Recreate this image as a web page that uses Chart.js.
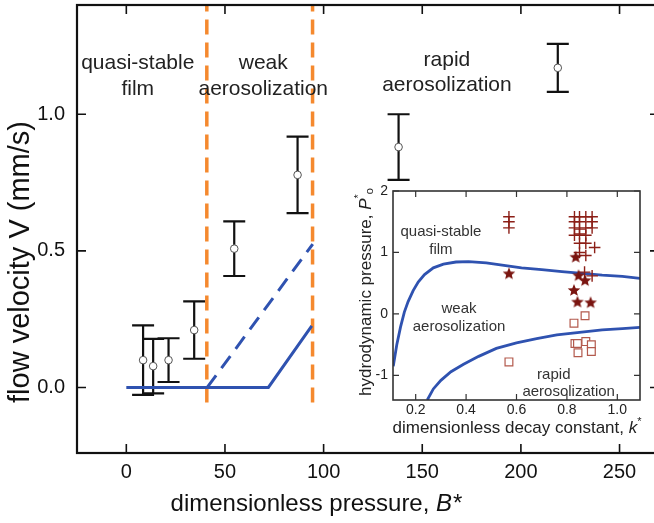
<!DOCTYPE html>
<html>
<head>
<meta charset="utf-8">
<script src="https://cdn.jsdelivr.net/npm/chart.js@4.4.1/dist/chart.umd.min.js"></script>
<style>
  html, body { margin: 0; padding: 0; background: #fff; overflow: hidden; }
  #wrap { position: relative; width: 654px; height: 523px; overflow: hidden; }
  #main { position: absolute; left: 0; top: 0; }
  #inset { position: absolute; left: 340px; top: 175px; }
</style>
</head>
<body>
<div id="wrap">
  <canvas id="main" width="664" height="523"></canvas>
  <canvas id="inset" width="314" height="265"></canvas>
</div>
<script>
// main panel: measured flow velocity vs dimensionless pressure
const B = [8.5, 13.6, 21.4, 34.4, 54.7, 86.8, 138, 218.7];
const V = [0.10, 0.078, 0.10, 0.21, 0.508, 0.778, 0.88, 1.17];
const Verr = [0.127, 0.10, 0.08, 0.105, 0.10, 0.14, 0.12, 0.088];

// model lines
const solidB = [0, 72, 94];
const solidV = [0, 0, 0.225];
const dashB = [41, 94.5];
const dashV = [0, 0.525];

// regime boundaries (orange dashed)
const boundaryB = [40.8, 94.4];
const boundaryV = [-0.055, 1.40];

// inset: regime map, P*o vs k*
const upperK = [0.111, 0.125, 0.14, 0.155, 0.17, 0.19, 0.21, 0.235, 0.27, 0.31, 0.36, 0.41, 0.48, 0.55, 0.62, 0.70, 0.78, 0.86, 0.94, 1.02, 1.09];
const upperP = [-0.85, -0.50, -0.21, 0.03, 0.20, 0.38, 0.52, 0.64, 0.75, 0.81, 0.845, 0.85, 0.83, 0.79, 0.75, 0.72, 0.69, 0.66, 0.63, 0.61, 0.58];
const lowerK = [0.246, 0.27, 0.30, 0.34, 0.39, 0.45, 0.52, 0.60, 0.68, 0.76, 0.85, 0.94, 1.02, 1.09];
const lowerP = [-1.40, -1.22, -1.08, -0.94, -0.82, -0.69, -0.56, -0.47, -0.40, -0.34, -0.30, -0.26, -0.24, -0.22];

const crossK = [0.57, 0.57, 0.57, 0.83, 0.85, 0.875, 0.90, 0.83, 0.85, 0.90, 0.83, 0.85, 0.875, 0.90, 0.83, 0.85, 0.875, 0.85, 0.875, 0.91, 0.85, 0.875, 0.87, 0.90];
const crossP = [1.58, 1.50, 1.40, 1.58, 1.58, 1.58, 1.58, 1.50, 1.50, 1.50, 1.40, 1.38, 1.40, 1.40, 1.28, 1.30, 1.28, 1.15, 1.15, 1.08, 1.00, 0.95, 0.68, 0.62];
const starK = [0.57, 0.835, 0.846, 0.872, 0.828, 0.842, 0.894];
const starP = [0.66, 0.93, 0.63, 0.55, 0.39, 0.20, 0.19];
const squareK = [0.57, 0.828, 0.872, 0.832, 0.844, 0.842, 0.875, 0.897, 0.897];
const squareP = [-0.78, -0.15, -0.03, -0.48, -0.63, -0.48, -0.45, -0.50, -0.61];

const FONT = "'Liberation Sans', Arial, sans-serif";
const BLUE = '#2f52b0';
const ORANGE = '#f5892e';
const DARKRED = '#8c1f17';

const pts = (xs, ys) => xs.map((v, i) => ({ x: v, y: ys[i] }));
const isMajor = (v, step) => Math.abs(v / step - Math.round(v / step)) < 1e-6;
const noPad = s => { s.paddingTop = 0; s.paddingBottom = 0; s.paddingLeft = 0; s.paddingRight = 0; };

function frameTicks(o) {
  return {
    id: 'frameTicks',
    afterDatasetsDraw(chart) {
      const { ctx, chartArea: a, scales: { x, y } } = chart;
      ctx.save();
      ctx.strokeStyle = o.color;
      ctx.lineWidth = o.tickWidth;
      ctx.beginPath();
      x.ticks.forEach(t => {
        const px = x.getPixelForValue(t.value);
        const len = isMajor(t.value, o.xMajor) ? o.major : o.minor;
        ctx.moveTo(px, a.bottom); ctx.lineTo(px, a.bottom - len);
        ctx.moveTo(px, a.top); ctx.lineTo(px, a.top + len);
      });
      y.ticks.forEach(t => {
        const py = y.getPixelForValue(t.value);
        const len = isMajor(t.value, o.yMajor) ? o.major : o.minor;
        ctx.moveTo(a.left, py); ctx.lineTo(a.left + len, py);
        ctx.moveTo(a.right, py); ctx.lineTo(a.right - len, py);
      });
      ctx.stroke();
      ctx.lineWidth = o.frameWidth;
      ctx.strokeRect(a.left, a.top, a.width, a.height);
      ctx.restore();
    }
  };
}

// draws pieces of text [str, font, dy] one after another, centred on cx
function richText(ctx, parts, cx, cy) {
  let total = 0;
  parts.forEach(p => { ctx.font = p[1]; total += ctx.measureText(p[0]).width; });
  let x = cx - total / 2;
  parts.forEach(p => {
    ctx.font = p[1];
    ctx.fillText(p[0], x, cy + (p[2] || 0));
    x += ctx.measureText(p[0]).width;
  });
}

function regionLabels(items, font, color) {
  return {
    id: 'regionLabels',
    afterDraw(chart) {
      const { ctx, scales: { x, y } } = chart;
      ctx.save();
      ctx.font = font;
      ctx.fillStyle = color;
      ctx.textAlign = 'center';
      ctx.textBaseline = 'middle';
      items.forEach(it => ctx.fillText(it[0], x.getPixelForValue(it[1]), y.getPixelForValue(it[2])));
      ctx.restore();
    }
  };
}

const errorBars = {
  id: 'errorBars',
  beforeDatasetsDraw(chart) {
    const { ctx, scales: { x, y } } = chart;
    ctx.save();
    ctx.strokeStyle = '#111';
    ctx.lineWidth = 2.2;
    ctx.beginPath();
    B.forEach((b, i) => {
      const px = x.getPixelForValue(b);
      const top = y.getPixelForValue(V[i] + Verr[i]);
      const bot = y.getPixelForValue(V[i] - Verr[i]);
      ctx.moveTo(px, top); ctx.lineTo(px, bot);
      ctx.moveTo(px - 11, top); ctx.lineTo(px + 11, top);
      ctx.moveTo(px - 11, bot); ctx.lineTo(px + 11, bot);
    });
    ctx.stroke();
    ctx.restore();
  }
};

const mainTitles = {
  id: 'mainTitles',
  afterDraw(chart) {
    const ctx = chart.ctx;
    ctx.save();
    ctx.fillStyle = '#111';
    ctx.textAlign = 'left';
    ctx.textBaseline = 'middle';
    richText(ctx, [['dimensionless pressure, ', '24px ' + FONT], ['B*', 'italic 24px ' + FONT]], 316, 504);
    ctx.translate(21, 262);
    ctx.rotate(-Math.PI / 2);
    ctx.textAlign = 'center';
    ctx.font = '29px ' + FONT;
    ctx.fillText('flow velocity V (mm/s)', 0, 0);
    ctx.restore();
  }
};

const insetTitles = {
  id: 'insetTitles',
  beforeDraw(chart) {
    const { ctx, chartArea: a } = chart;
    ctx.save();
    ctx.fillStyle = '#fff';
    ctx.fillRect(a.left, a.top, a.width, a.height);
    ctx.restore();
  },
  afterDraw(chart) {
    const ctx = chart.ctx;
    ctx.save();
    ctx.fillStyle = '#222';
    ctx.textAlign = 'left';
    ctx.textBaseline = 'middle';
    richText(ctx, [['dimensionless decay constant, ', '17px ' + FONT], ['k', 'italic 17px ' + FONT], ['*', '11px ' + FONT, -6]], 177, 253);
    ctx.translate(26, 117);
    ctx.rotate(-Math.PI / 2);
    richText(ctx, [['hydrodynamic pressure, ', '17px ' + FONT], ['P', 'italic 17px ' + FONT], ['*', '11px ' + FONT, -7], ['o', '11px ' + FONT, 4]], 0, 0);
    ctx.restore();
  }
};

function starImage(r, color) {
  const s = Math.ceil(r * 2 + 2);
  const c = document.createElement('canvas');
  c.width = c.height = s;
  const g = c.getContext('2d');
  g.fillStyle = color;
  g.beginPath();
  for (let i = 0; i < 10; i++) {
    const rad = i % 2 ? r * 0.44 : r;
    const ang = -Math.PI / 2 + i * Math.PI / 5;
    g.lineTo(s / 2 + rad * Math.cos(ang), s / 2 + 0.5 + rad * Math.sin(ang));
  }
  g.closePath();
  g.fill();
  return c;
}

const lineSet = (data, color, width, dash) => ({
  data, showLine: true, borderColor: color, borderWidth: width, borderDash: dash || [],
  pointRadius: 0, fill: false, tension: 0
});

new Chart(document.getElementById('main'), {
  type: 'scatter',
  data: {
    datasets: [
      { data: pts(B, V), pointRadius: 3.8, pointBackgroundColor: '#fff', pointBorderColor: '#555', pointBorderWidth: 1 },
      lineSet(pts(solidB, solidV), BLUE, 3),
      lineSet(pts(dashB, dashV), BLUE, 3, [15, 9]),
      lineSet(pts([boundaryB[0], boundaryB[0]], boundaryV), ORANGE, 3.5, [15, 8]),
      lineSet(pts([boundaryB[1], boundaryB[1]], boundaryV), ORANGE, 3.5, [15, 8])
    ]
  },
  options: {
    responsive: false,
    animation: false,
    events: [],
    layout: { padding: { left: 0, top: -3, right: 5, bottom: 0 } },
    plugins: { legend: { display: false }, tooltip: { enabled: false } },
    scales: {
      x: {
        type: 'linear', min: -25, max: 270,
        grid: { display: false, drawTicks: false }, border: { display: false },
        ticks: {
          stepSize: 25, includeBounds: false, padding: 7, color: '#111', maxRotation: 0,
          font: { family: FONT, size: 20 },
          callback: v => isMajor(v, 50) ? String(v) : null
        },
        afterFit: s => { s.height = 70; noPad(s); }
      },
      y: {
        type: 'linear', min: -0.24, max: 1.40,
        grid: { display: false, drawTicks: false }, border: { display: false },
        ticks: {
          stepSize: 0.25, includeBounds: false, padding: 12, color: '#111',
          font: { family: FONT, size: 20 },
          callback: v => isMajor(v, 0.5) ? v.toFixed(1) : null
        },
        afterFit: s => { s.width = 77; noPad(s); }
      }
    }
  },
  plugins: [
    errorBars,
    frameTicks({ color: '#111', tickWidth: 1.6, frameWidth: 2.2, major: 9, minor: 5, xMajor: 50, yMajor: 0.5 }),
    regionLabels([
      ['quasi-stable', 5.8, 1.186], ['film', 5.8, 1.092],
      ['weak', 69.4, 1.186], ['aerosolization', 69.4, 1.092],
      ['rapid', 162.5, 1.197], ['aerosolization', 162.5, 1.106]
    ], '21px ' + FONT, '#222'),
    mainTitles
  ]
});

new Chart(document.getElementById('inset'), {
  type: 'scatter',
  data: {
    datasets: [
      { data: pts(starK, starP), pointStyle: starImage(6.6, '#7a1510'), pointRadius: 6.6 },
      { data: pts(crossK, crossP), pointStyle: 'cross', pointRadius: 5.8, pointBorderColor: DARKRED, pointBorderWidth: 1.4 },
      { data: pts(squareK, squareP), pointStyle: 'rect', pointRadius: 5.5, pointBackgroundColor: '#fff', pointBorderColor: '#b35a4d', pointBorderWidth: 1.2 },
      lineSet(pts(upperK, upperP), BLUE, 2.8),
      lineSet(pts(lowerK, lowerP), BLUE, 2.8)
    ]
  },
  options: {
    responsive: false,
    animation: false,
    events: [],
    layout: { padding: { left: 0, top: 16, right: 14, bottom: 0 } },
    plugins: { legend: { display: false }, tooltip: { enabled: false } },
    scales: {
      x: {
        type: 'linear', min: 0.11, max: 1.09,
        grid: { display: false, drawTicks: false }, border: { display: false },
        ticks: {
          stepSize: 0.1, includeBounds: false, padding: 2, color: '#222', maxRotation: 0,
          font: { family: FONT, size: 14 },
          callback: v => isMajor(v, 0.2) ? v.toFixed(1) : null
        },
        afterFit: s => { s.height = 40; noPad(s); }
      },
      y: {
        type: 'linear', min: -1.4, max: 2,
        grid: { display: false, drawTicks: false }, border: { display: false },
        ticks: {
          stepSize: 0.5, includeBounds: false, padding: 5, color: '#222',
          font: { family: FONT, size: 14 },
          callback: v => isMajor(v, 1) ? String(v) : null
        },
        afterFit: s => { s.width = 53; noPad(s); }
      }
    }
  },
  plugins: [
    insetTitles,
    frameTicks({ color: '#333', tickWidth: 1.2, frameWidth: 1.6, major: 6, minor: 3.5, xMajor: 0.2, yMajor: 1 }),
    regionLabels([
      ['quasi-stable', 0.30, 1.33], ['film', 0.30, 1.04],
      ['weak', 0.372, 0.09], ['aerosolization', 0.372, -0.21],
      ['rapid', 0.748, -0.99], ['aerosolization', 0.807, -1.26]
    ], '15px ' + FONT, '#333')
  ]
});
</script>
</body>
</html>
